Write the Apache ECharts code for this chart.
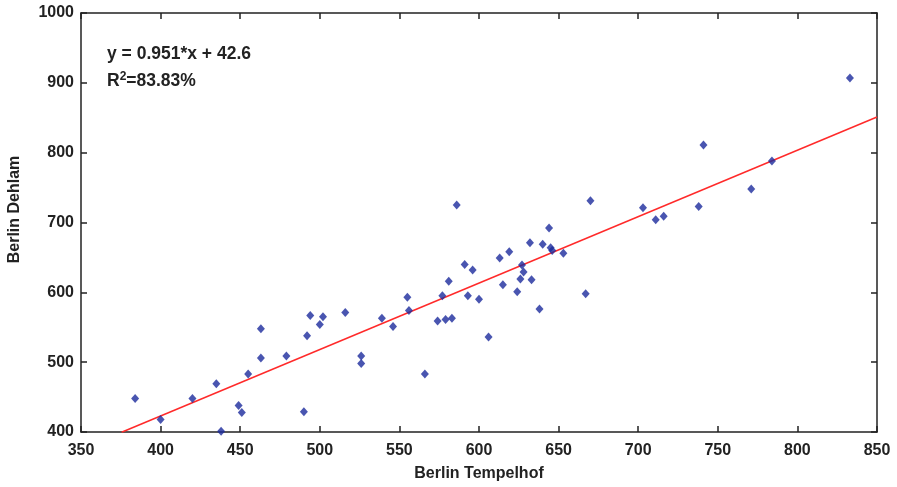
<!DOCTYPE html>
<html>
<head>
<meta charset="utf-8">
<script src="https://cdn.jsdelivr.net/npm/echarts@6/dist/echarts.min.js"></script>
<style>html,body{margin:0;padding:0;background:#fff;}#c{width:897px;height:487px;}</style>
</head>
<body>
<div id="c"></div>
<script>
// Scatter data: Berlin Tempelhof (x) vs Berlin Dehlam (y)
var tempelhof = [384,400,420,435,438,449,451,455,463,463,479,490,492,494,500,502,516,526,526,539,546,555,556,566,574,579,583,577,581,586,591,593,596,600,606,613,615,619,624,626,627,628,633,632,638,640,644,645,646,653,667,670,703,711,716,738,741,771,784,833];
var dehlam    = [448,418,448,469,401,438,428,483,506,548,509,429,538,567,554,565,571,509,498,563,551,593,574,483,559,561,563,595,616,725,640,595,632,590,536,649,611,658,601,619,639,629,618,671,576,669,692,664,660,656,598,731,721,704,709,723,811,748,788,907];
// Regression line end points (y = 0.951*x + 42.6)
var fitX = [375.5, 850];
var fitY = [399.7, 851.0];
var xTicks = [350,400,450,500,550,600,650,700,750,800,850];
var yTicks = [400,500,600,700,800,900,1000];
var eqText = 'y = 0.951*x + 42.6';
var r2Text = '83.83%';

var pts = tempelhof.map(function(x,i){return [x, dehlam[i]];});
var line = fitX.map(function(x,i){return [x, fitY[i]];});

var font = 'Liberation Sans, Arial, sans-serif';
var axisCol = '#222';
var lbl = {fontFamily: font, fontSize: 16, fontWeight: 'bold', color: '#222', formatter: function(v){return String(v);}};

var chart = echarts.init(document.getElementById('c'), null, {renderer: 'canvas'});
chart.setOption({
  animation: false,
  backgroundColor: '#fff',
  grid: {left: 81, right: 20, top: 13, bottom: 55, containLabel: false, outerBoundsMode: 'none'},
  xAxis: [{
    type: 'value', min: xTicks[0], max: xTicks[xTicks.length-1], interval: 50,
    position: 'bottom',
    name: 'Berlin Tempelhof', nameLocation: 'middle', nameGap: 34,
    nameTextStyle: {fontFamily: font, fontSize: 16, fontWeight: 'bold', color: '#222'},
    axisLine: {show: true, onZero: false, lineStyle: {color: axisCol, width: 1.5}},
    axisTick: {show: true, inside: true, length: 6, lineStyle: {color: axisCol, width: 1.5}},
    axisLabel: Object.assign({margin: 11}, lbl),
    splitLine: {show: false}
  },{
    type: 'value', min: xTicks[0], max: xTicks[xTicks.length-1], interval: 50,
    position: 'top',
    axisLine: {show: true, onZero: false, lineStyle: {color: axisCol, width: 1.5}},
    axisTick: {show: true, inside: true, length: 6, lineStyle: {color: axisCol, width: 1.5}},
    axisLabel: {show: false},
    splitLine: {show: false}
  }],
  yAxis: [{
    type: 'value', min: yTicks[0], max: yTicks[yTicks.length-1], interval: 100,
    position: 'left',
    name: 'Berlin Dehlam', nameLocation: 'middle', nameGap: 58,
    nameTextStyle: {fontFamily: font, fontSize: 16, fontWeight: 'bold', color: '#222', padding: [0,0,0,26]},
    axisLine: {show: true, onZero: false, lineStyle: {color: axisCol, width: 1.5}},
    axisTick: {show: true, inside: true, length: 6, lineStyle: {color: axisCol, width: 1.5}},
    axisLabel: Object.assign({margin: 7}, lbl),
    splitLine: {show: false}
  },{
    type: 'value', min: yTicks[0], max: yTicks[yTicks.length-1], interval: 100,
    position: 'right',
    axisLine: {show: true, onZero: false, lineStyle: {color: axisCol, width: 1.5}},
    axisTick: {show: true, inside: true, length: 6, lineStyle: {color: axisCol, width: 1.5}},
    axisLabel: {show: false},
    splitLine: {show: false}
  }],
  series: [{
    type: 'line', data: line, xAxisIndex: 0, yAxisIndex: 0,
    showSymbol: false, symbol: 'none', clip: true,
    lineStyle: {color: '#ff2a2a', width: 1.5}, z: 2
  },{
    type: 'scatter', data: pts, xAxisIndex: 0, yAxisIndex: 0,
    symbol: 'diamond', symbolSize: [8, 9],
    itemStyle: {color: '#1c2a9c'}, z: 3
  }],
  graphic: [{
    type: 'text', left: 107, top: 45,
    style: {text: eqText, font: 'bold 17.5px ' + font, fill: '#222'}
  },{
    type: 'text', left: 107, top: 71,
    style: {
      text: 'R{s|2}=' + r2Text,
      font: 'bold 17.5px ' + font, fill: '#222',
      rich: {s: {fontFamily: font, fontSize: 12, fontWeight: 'bold', fill: '#222', color: '#222', verticalAlign: 'top', padding: [0,0,8,0]}}
    }
  }]
});
</script>
</body>
</html>
